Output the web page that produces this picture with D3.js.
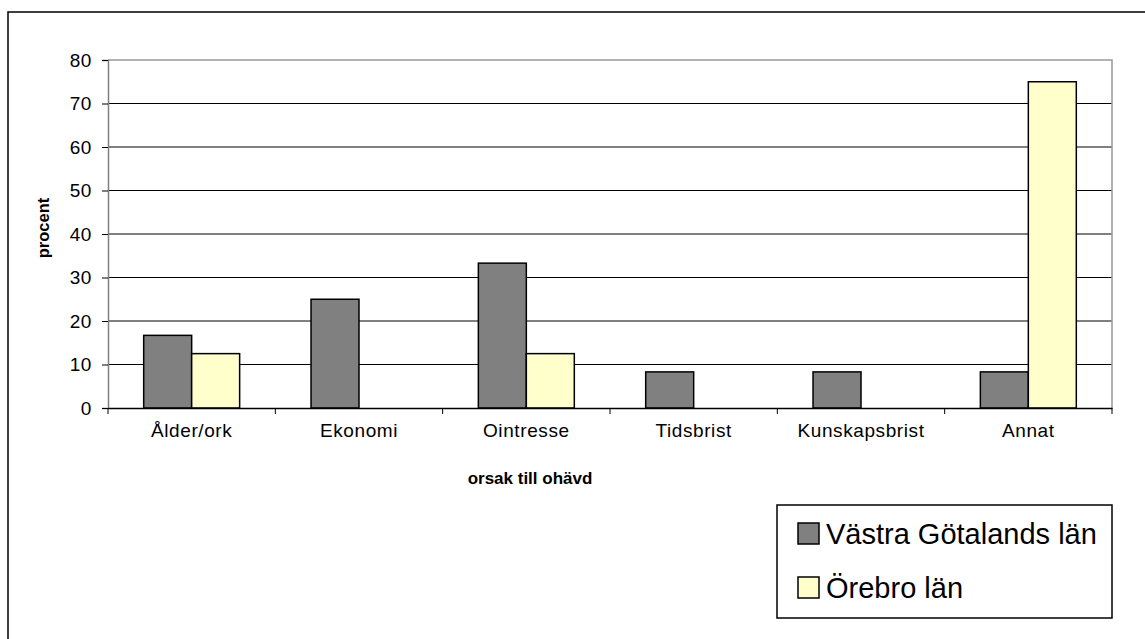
<!DOCTYPE html>
<html><head><meta charset="utf-8">
<script src="https://cdn.jsdelivr.net/npm/d3@7"></script>
<style>body{margin:0;background:#fff}svg{display:block}text{font-family:"Liberation Sans",Arial,sans-serif}</style>
</head><body>
<script>
const categories = ["Ålder/ork","Ekonomi","Ointresse","Tidsbrist","Kunskapsbrist","Annat"];
const seriesNames = ["Västra Götalands län","Örebro län"];
const vastra = [16.7, 25, 33.3, 8.3, 8.3, 8.3];
const orebro = [12.5, 0, 12.5, 0, 0, 75];
const yTicks = [0,10,20,30,40,50,60,70,80];
const colors = ["#808080","#FFFFCC"];

const W=1145,H=639;
const svg=d3.select("body").append("svg").attr("width",W).attr("height",H);
// outer frame
svg.append("rect").attr("x",8).attr("y",12).attr("width",1160).attr("height",660)
  .attr("fill","none").attr("stroke","#000").attr("stroke-width",1.5);

const L=108,R=1112,T=60,B=408;
const x=d3.scaleBand().domain(categories).range([L,R]).paddingInner(0.4266).paddingOuter(0.2133);
const xs=d3.scaleBand().domain([0,1]).range([0,x.bandwidth()]);
const y=d3.scaleLinear().domain([0,80]).range([B,T]);

// gridlines
svg.append("g").selectAll("line").data(yTicks.filter(d=>d>0&&d<80)).join("line")
  .attr("x1",L).attr("x2",R).attr("y1",d=>y(d)).attr("y2",d=>y(d)).attr("stroke","#000").attr("stroke-width",1);
// plot border top/right gray
svg.append("path").attr("d",`M${L},${T}H${R}V${B}`).attr("fill","none").attr("stroke","#999").attr("stroke-width",1.5);

const data=[vastra,orebro];
data.forEach((vals,si)=>{
  svg.append("g").selectAll("rect").data(vals.map((v,i)=>({v,c:categories[i]})).filter(d=>d.v>0)).join("rect")
    .attr("x",d=>x(d.c)+xs(si)).attr("width",xs.bandwidth())
    .attr("y",d=>y(d.v)).attr("height",d=>B-y(d.v))
    .attr("fill",colors[si]).attr("stroke","#000").attr("stroke-width",1.5);
});

// y axis
const ya=svg.append("g").attr("transform",`translate(${L},0)`)
  .call(d3.axisLeft(y).tickValues(yTicks).tickSize(6).tickPadding(10));
ya.select(".domain").attr("stroke","#808080").attr("stroke-width",1.5);
ya.selectAll(".tick line").attr("stroke","#000");
ya.selectAll("text").attr("font-size",19).attr("fill","#000").attr("font-family","Liberation Sans, Arial, sans-serif").style("letter-spacing","0.6px");

// x axis
const step=(R-L)/categories.length;
const xa=svg.append("g").attr("transform",`translate(0,${B})`)
  .call(d3.axisBottom(x).tickSize(0).tickPadding(16));
xa.select(".domain").attr("stroke","#000").attr("stroke-width",1.5);
xa.selectAll("text").attr("font-size",19).attr("fill","#000").attr("font-family","Liberation Sans, Arial, sans-serif").style("letter-spacing","0.6px");
svg.append("g").selectAll("line").data(d3.range(categories.length+1)).join("line")
  .attr("x1",i=>L+i*step).attr("x2",i=>L+i*step).attr("y1",B).attr("y2",B+6).attr("stroke","#000");

// titles
svg.append("text").attr("x",530).attr("y",484).attr("text-anchor","middle")
  .attr("font-size",17).attr("font-weight","bold").text("orsak till ohävd");
svg.append("text").attr("transform","translate(49,228) rotate(-90)").attr("text-anchor","middle")
  .attr("font-size",16.5).attr("font-weight","bold").text("procent");

// legend
svg.append("rect").attr("x",777).attr("y",505).attr("width",335).attr("height",113)
  .attr("fill","#fff").attr("stroke","#000").attr("stroke-width",1.5);
const lg=svg.append("g").selectAll("g").data(seriesNames).join("g")
  .attr("transform",(d,i)=>`translate(798,${523+i*54})`);
lg.append("rect").attr("width",21).attr("height",21).attr("fill",(d,i)=>colors[i]).attr("stroke","#000").attr("stroke-width",1.5);
lg.append("text").attr("x",28).attr("y",21).attr("font-size",29).text(d=>d);
</script>
</body></html>
